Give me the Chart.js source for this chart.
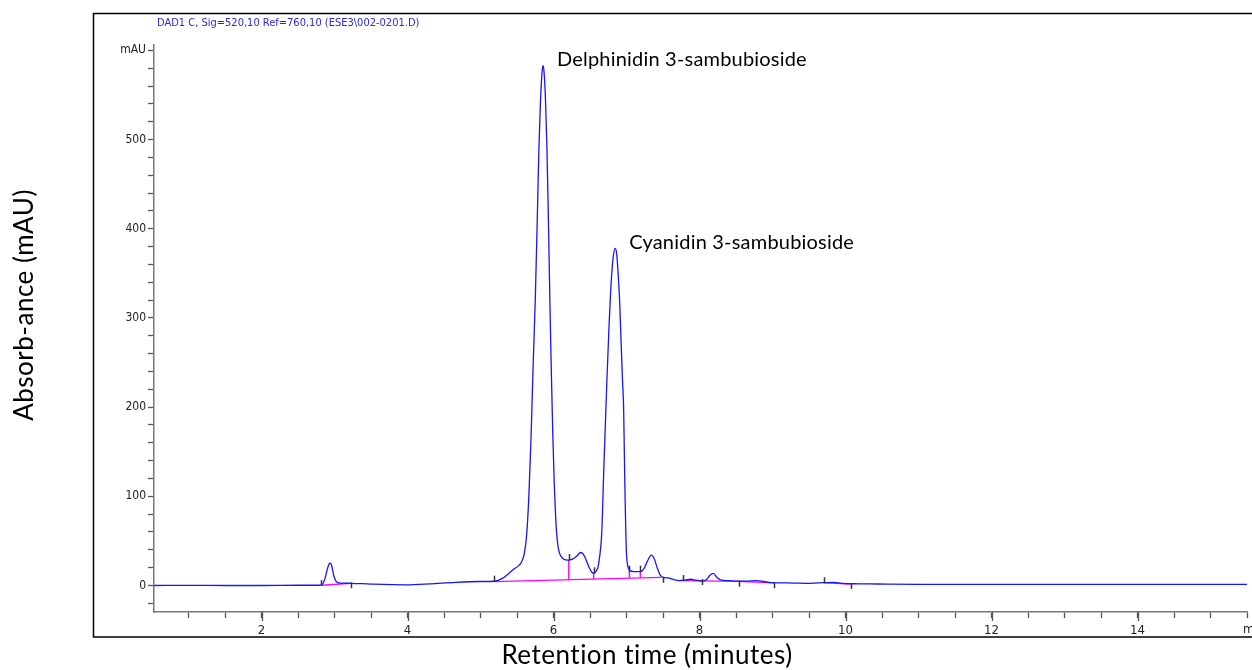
<!DOCTYPE html>
<html>
<head>
<meta charset="utf-8">
<script src="https://cdn.jsdelivr.net/npm/chart.js@4.4.1/dist/chart.umd.min.js"></script>
<style>
  html, body { margin: 0; padding: 0; background: #fff; }
  #wrap { width: 1252px; height: 670px; position: relative; }
</style>
</head>
<body>
<div id="wrap"><canvas id="chrom" width="1252" height="670"></canvas></div>
<script>
// --- data (time in minutes, signal in mAU) ---
const times = [0.53, 1.00, 1.50, 2.00, 2.50, 2.80, 2.84, 2.87, 2.90, 2.925, 2.945, 2.965, 2.99, 3.02, 3.06, 3.12, 3.22, 3.50, 3.97, 4.30, 4.66, 5.00, 5.19,
  5.30, 5.38, 5.45, 5.52, 5.56, 5.60, 5.63, 5.66, 5.69, 5.72, 5.75, 5.78, 5.80, 5.82, 5.84, 5.855, 5.87, 5.89, 5.91, 5.93, 5.95, 5.97, 5.99,
  6.01, 6.03, 6.05, 6.07, 6.10, 6.14, 6.20, 6.26, 6.32, 6.37, 6.41, 6.45, 6.49, 6.53, 6.56, 6.59, 6.61, 6.64, 6.66, 6.69, 6.71, 6.73,
  6.76, 6.78, 6.80, 6.82, 6.845, 6.865, 6.885, 6.905, 6.925, 6.945, 6.96, 6.97, 6.98, 6.99, 7.00, 7.02, 7.04, 7.10, 7.19, 7.24, 7.29, 7.34,
  7.38, 7.42, 7.46, 7.50, 7.57,
  7.65, 7.72, 7.80, 7.88, 7.95, 8.04, 8.10, 8.15, 8.19, 8.24, 8.30, 8.40, 8.52, 8.65, 8.78, 8.88, 8.98, 9.20, 9.52, 9.70, 9.84, 9.95, 10.10,
  10.43, 11.00, 12.00, 13.00, 14.00, 15.50];
const absorbance = [0.0, 0.2, 0.0, 0.0, 0.3, 0.3, 2, 8, 18, 24, 25, 21, 11, 5, 3, 2.6, 2.5, 1.6, 0.8, 1.8, 3.6, 4.5, 4.8,
  8, 13, 18, 22, 26, 36, 55, 96, 160, 245, 320, 420, 490, 540, 572, 583, 576, 545, 490, 410, 320, 240, 170,
  115, 75, 52, 40, 33, 29.5, 28.5, 29.5, 33, 37, 35, 28, 20, 14.5, 14, 17, 21, 38, 58, 133, 180, 227,
  290, 325, 352, 370, 378, 372, 350, 320, 275, 230, 200, 150, 100, 62, 35, 21, 17, 15.5, 15.5, 19, 28, 34,
  30, 20, 12, 9, 8.5,
  6.5, 5.5, 6, 7, 6, 5, 7, 12, 13.7, 9, 6, 5.5, 5, 5, 5.5, 4.5, 3.2, 3, 2.5, 3.2, 3.6, 2.5, 2,
  1.7, 1.3, 1.3, 1.3, 1.3, 1.3];

// integration baselines (magenta): each segment is a list of [time, mAU]
const baselineSegments = [
  [[2.82, 0.3], [3.22, 2.5]],
  [[5.19, 4.3], [7.47, 9.2]],
  [[7.72, 5.5], [8.54, 4.6], [9.02, 3.0]],
  [[9.71, 3.0], [10.08, 1.5]]
];
// peak split drop lines: time, baseline value, signal value
const dropTimes = [6.21, 6.55, 7.04, 7.19];
const dropLow = [6.5, 7.2, 8.3, 8.6];
const dropHigh = [28.6, 14, 16.3, 15.5];

// peak start/end event marks: time and value of their lower end
const markTimes = [2.82, 3.22, 5.19, 6.21, 6.55, 7.04, 7.19, 7.50, 7.78, 8.03, 8.54, 9.02, 9.71, 10.08];
const markLow = [-0.6, -3.1, 4.3, 28.6, 13.7, 15.5, 15.5, 3.1, 5, 0.5, -1.3, -3.1, 2.5, -4];

// peak labels, anchored on the apex
const peakNames = ["Delphinidin 3-sambubioside", "Cyanidin 3-sambubioside"];
const peakTimes = [5.855, 6.845];
const peakValues = [583, 378];

const xMin = 0.527, xMax = 15.5;
const yMin = -29.7, yMax = 606;

const narrow = "'Liberation Sans Narrow', 'DejaVu Sans Condensed', sans-serif";
const labelFont = "Lato, 'Open Sans', sans-serif";

const datasets = [{
  data: times.map((t, i) => ({ x: t, y: absorbance[i] })),
  borderColor: '#1515ff',
  borderWidth: 1.3,
  pointRadius: 0,
  cubicInterpolationMode: 'monotone',
  order: 0
}];
baselineSegments.forEach(seg => {
  datasets.push({
    data: seg.map(p => ({ x: p[0], y: p[1] })),
    borderColor: '#ff00ff', borderWidth: 1.3, pointRadius: 0, order: 1
  });
});
dropTimes.forEach((t, i) => {
  datasets.push({
    data: [{ x: t, y: dropLow[i] }, { x: t, y: dropHigh[i] }],
    borderColor: '#ff00ff', borderWidth: 1.5, pointRadius: 0, order: 1
  });
});

const decorPlugin = {
  id: 'decor',
  afterDraw(chart) {
    const ctx = chart.ctx;
    const xs = chart.scales.x, ys = chart.scales.y;
    ctx.save();

    // outer frame
    ctx.strokeStyle = '#000';
    ctx.lineWidth = 1.5;
    ctx.strokeRect(93.5, 13.5, 1200, 623.5);

    // longer ticks on the labelled minutes
    ctx.strokeStyle = '#555';
    ctx.lineWidth = 1.3;
    xs.ticks.forEach(tk => {
      if (Math.abs(tk.value % 2) > 1e-6) return;
      const px = Math.round(xs.getPixelForValue(tk.value)) + 0.5;
      ctx.beginPath();
      ctx.moveTo(px, xs.top);
      ctx.lineTo(px, xs.top + 9);
      ctx.stroke();
    });

    // signal header
    ctx.fillStyle = '#2a2ad8';
    ctx.font = '11px ' + narrow;
    ctx.textAlign = 'left';
    ctx.textBaseline = 'middle';
    ctx.fillText('DAD1 C, Sig=520,10 Ref=760,10 (ESE3\\002-0201.D)', 157, 23);

    // unit at the end of the time axis (clipped by the page edge)
    ctx.fillStyle = '#222';
    ctx.font = '13px ' + narrow;
    ctx.fillText('min', xs.right - 4, 630);

    // event marks
    ctx.strokeStyle = '#333';
    ctx.lineWidth = 1.5;
    markTimes.forEach((t, i) => {
      const px = Math.round(xs.getPixelForValue(t)) + 0.5;
      const py = ys.getPixelForValue(markLow[i]);
      ctx.beginPath();
      ctx.moveTo(px, py);
      ctx.lineTo(px, py - 6);
      ctx.stroke();
    });

    // peak names
    ctx.fillStyle = '#000';
    ctx.letterSpacing = '0.2px';
    ctx.font = '20px ' + labelFont;
    ctx.textBaseline = 'middle';
    peakNames.forEach((name, i) => {
      const px = xs.getPixelForValue(peakTimes[i]);
      const py = ys.getPixelForValue(peakValues[i]);
      ctx.fillText(name, px + 14, py - 6);
    });

    // axis titles
    ctx.letterSpacing = '0.5px';
    ctx.font = '26px ' + labelFont;
    ctx.textAlign = 'center';
    ctx.fillText('Retention time (minutes)', 647, 656);
    ctx.save();
    ctx.translate(25, 305);
    ctx.rotate(-Math.PI / 2);
    ctx.fillText('Absorb-ance (mAU)', 0, 0);
    ctx.restore();

    ctx.restore();
  }
};

new Chart(document.getElementById('chrom'), {
  type: 'line',
  data: { datasets },
  options: {
    responsive: false,
    animation: false,
    layout: { padding: { top: 45, right: 1, left: 0, bottom: 0 } },
    plugins: { legend: { display: false }, tooltip: { enabled: false } },
    scales: {
      x: {
        type: 'linear',
        min: xMin, max: xMax,
        afterFit: s => { s.height = 58; },
        border: { display: true, color: '#777', width: 1.5 },
        grid: { drawOnChartArea: false, drawTicks: true, tickLength: 6, color: '#555', tickWidth: 1.3 },
        ticks: {
          stepSize: 0.5, includeBounds: false, autoSkip: false, maxRotation: 0, padding: 5,
          color: '#222', font: { family: narrow, size: 13 },
          callback: v => (Math.abs(v % 2) < 1e-6 ? String(v) : '')
        }
      },
      y: {
        type: 'linear',
        min: yMin, max: yMax,
        afterFit: s => { s.width = 154; },
        border: { display: true, color: '#777', width: 1.5 },
        grid: { drawOnChartArea: false, drawTicks: true, tickLength: 6, color: '#555', tickWidth: 1.3 },
        ticks: {
          stepSize: 20, includeBounds: false, autoSkip: false, padding: 2,
          color: '#222', font: { family: narrow, size: 12 },
          callback: v => (v === 600 ? 'mAU' : (v % 100 === 0 ? String(v) : ''))
        }
      }
    }
  },
  plugins: [decorPlugin]
});
</script>
</body>
</html>
